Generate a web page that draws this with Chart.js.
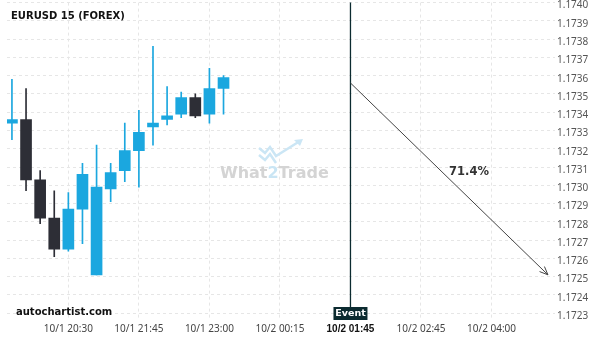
<!DOCTYPE html>
<html>
<head>
<meta charset="utf-8">
<script src="https://cdn.jsdelivr.net/npm/chart.js@4.4.0/dist/chart.umd.min.js"></script>
<style>
  html, body { margin: 0; padding: 0; background: #fff; }
  #wrap { width: 600px; height: 340px; }
</style>
</head>
<body>
<div id="wrap"><canvas id="chart" width="600" height="340"></canvas></div>
<script>
// candles, 15 min
const opens  = [1.17334, 1.17336, 1.17303, 1.17282, 1.17265, 1.17287, 1.17251, 1.17298, 1.17308, 1.17319, 1.17332, 1.17336, 1.17339, 1.17348, 1.17339, 1.17353];
const closes = [1.17336, 1.17303, 1.17282, 1.17265, 1.17287, 1.17306, 1.17299, 1.17307, 1.17319, 1.17329, 1.17334, 1.17338, 1.17348, 1.17338, 1.17353, 1.17359];
const highs  = [1.17358, 1.17353, 1.17308, 1.17297, 1.17296, 1.17312, 1.17322, 1.17312, 1.17334, 1.17341, 1.17376, 1.17354, 1.17351, 1.17350, 1.17364, 1.17360];
const lows   = [1.17325, 1.17297, 1.17279, 1.17261, 1.17264, 1.17268, 1.17251, 1.17291, 1.17302, 1.17299, 1.17322, 1.17333, 1.17337, 1.17337, 1.17334, 1.17339];

// x axis ticks (candle slot index) and their labels
const xTickSlots  = [4, 9, 14, 19, 24, 29, 34];
const xTickLabels = ['10/1 20:30', '10/1 21:45', '10/1 23:00', '10/2 00:15', '10/2 01:45', '10/2 02:45', '10/2 04:00'];
const yTicks = [1.1723, 1.1724, 1.1725, 1.1726, 1.1727, 1.1728, 1.1729, 1.1730, 1.1731, 1.1732, 1.1733, 1.1734, 1.1735, 1.1736, 1.1737, 1.1738, 1.1739, 1.1740];

// event + forecast arrow
const eventSlot = 24;
const arrowFrom = [24, 1.17356];
const arrowTo   = [38, 1.17251];
const probText  = '71.4%';
const probAt    = [32.4, 1.17307];

const BLUE = '#1ba7df';
const DARK = '#2d2e36';
const candleColors = opens.map((o, i) => closes[i] >= o ? BLUE : DARK);

const bodies = opens.map((o, i) => ({ x: i, y: [o, closes[i]] }));
const wicks  = lows.map((l, i) => ({ x: i, y: [l, highs[i]] }));

// watermark, title, event box, labels
const extras = {
  id: 'extras',
  beforeDatasetsDraw(chart) {
    const c = chart.ctx;
    c.save();
    // What2Trade watermark
    c.font = 'bold 16px "DejaVu Sans"';
    c.textBaseline = 'alphabetic';
    c.textAlign = 'left';
    let x = 220;
    const parts = [['What', '#d4d4d4'], ['2', '#c9e5f4'], ['Trade', '#d4d4d4']];
    parts.forEach(p => {
      c.fillStyle = p[1];
      c.fillText(p[0], x, 178);
      x += c.measureText(p[0]).width;
    });
    c.strokeStyle = '#cbe6f5';
    c.lineWidth = 2.5;
    c.lineJoin = 'miter';
    c.beginPath();
    c.moveTo(259, 148); c.lineTo(265, 153); c.lineTo(270, 147); c.lineTo(276, 156); c.lineTo(300, 141);
    c.stroke();
    c.beginPath();
    c.moveTo(259, 155); c.lineTo(265, 160); c.lineTo(270, 154); c.lineTo(276, 163);
    c.stroke();
    c.fillStyle = '#cbe6f5';
    c.beginPath();
    c.moveTo(303, 139); c.lineTo(294, 140); c.lineTo(300, 146); c.closePath();
    c.fill();
    c.restore();
  },
  afterDatasetsDraw(chart) {
    const c = chart.ctx;
    const xs = chart.scales.x, ys = chart.scales.y;
    c.save();
    // arrow head
    const x1 = xs.getPixelForValue(arrowFrom[0]), y1 = ys.getPixelForValue(arrowFrom[1]);
    const x2 = xs.getPixelForValue(arrowTo[0]),   y2 = ys.getPixelForValue(arrowTo[1]);
    const ang = Math.atan2(y2 - y1, x2 - x1);
    c.strokeStyle = '#444';
    c.lineWidth = 1;
    c.beginPath();
    c.moveTo(x2 - 9 * Math.cos(ang - 0.4), y2 - 9 * Math.sin(ang - 0.4));
    c.lineTo(x2, y2);
    c.lineTo(x2 - 9 * Math.cos(ang + 0.4), y2 - 9 * Math.sin(ang + 0.4));
    c.stroke();
    // probability text
    c.font = 'bold 11.5px "DejaVu Sans"';
    c.fillStyle = '#333';
    c.textAlign = 'center';
    c.textBaseline = 'middle';
    c.fillText(probText, xs.getPixelForValue(probAt[0]), ys.getPixelForValue(probAt[1]));
    // event box
    const ex = xs.getPixelForValue(eventSlot);
    c.fillStyle = '#0c2b30';
    c.fillRect(ex - 17, 307, 34, 13);
    c.fillStyle = '#fff';
    c.font = 'bold 9.5px "DejaVu Sans"';
    c.fillText('Event', ex, 314);
    // title and site
    c.textAlign = 'left';
    c.textBaseline = 'alphabetic';
    c.fillStyle = '#111';
    c.font = 'bold 10px "DejaVu Sans"';
    c.fillText('EURUSD 15 (FOREX)', 11, 18.5);
    c.fillText('autochartist.com', 16, 314.5);
    c.restore();
  }
};

const ctx = document.getElementById('chart').getContext('2d');
new Chart(ctx, {
  type: 'bar',
  data: {
    datasets: [
      { type: 'line', data: [{ x: arrowFrom[0], y: arrowFrom[1] }, { x: arrowTo[0], y: arrowTo[1] }],
        borderColor: '#444', borderWidth: 1, pointRadius: 0, order: 0 },
      { type: 'line', data: [{ x: eventSlot, y: 1.1745 }, { x: eventSlot, y: 1.1720 }],
        borderColor: '#0c2b30', borderWidth: 1.3, pointRadius: 0, order: 0 },
      { data: bodies, backgroundColor: candleColors, barThickness: 11, grouped: false, borderWidth: 0, order: 1 },
      { data: wicks, backgroundColor: candleColors, barThickness: 1, grouped: false, borderWidth: 0, order: 2 }
    ]
  },
  options: {
    responsive: false,
    animation: false,
    layout: { padding: { left: 7, top: 2.6, right: 0, bottom: 0 } },
    plugins: { legend: { display: false }, tooltip: { enabled: false } },
    scales: {
      x: {
        type: 'linear',
        min: -0.35, max: 38.5,
        offset: false,
        grid: { offset: false, color: '#e6e6e6', drawTicks: false },
        border: { display: false, dash: [3, 3] },
        afterBuildTicks(s) { s.ticks = xTickSlots.map(v => ({ value: v })); },
        afterFit(s) { s.height = 22; },
        ticks: {
          autoSkip: false, maxRotation: 0, padding: 5,
          color: ctx => ctx.tick && ctx.tick.value === eventSlot ? '#111' : '#444',
          font: ctx => ctx.tick && ctx.tick.value === eventSlot
            ? { family: "'Liberation Sans', sans-serif", size: 10, weight: 'bold' }
            : { family: "'Noto Sans', sans-serif", size: 10 },
          callback: v => xTickLabels[xTickSlots.indexOf(v)] || ''
        }
      },
      y: {
        position: 'right',
        min: 1.1722737, max: 1.1740,
        grid: { color: '#e6e6e6', drawTicks: false },
        border: { display: false, dash: [3, 3] },
        afterBuildTicks(s) { s.ticks = yTicks.map(v => ({ value: v })); },
        afterFit(s) { s.width = 45; },
        ticks: {
          padding: 2, color: '#555', labelOffset: 3,
          font: { family: "'Noto Sans', sans-serif", size: 10, lineHeight: 0 },
          callback: v => v.toFixed(4)
        }
      }
    }
  },
  plugins: [extras]
});
</script>
</body>
</html>
